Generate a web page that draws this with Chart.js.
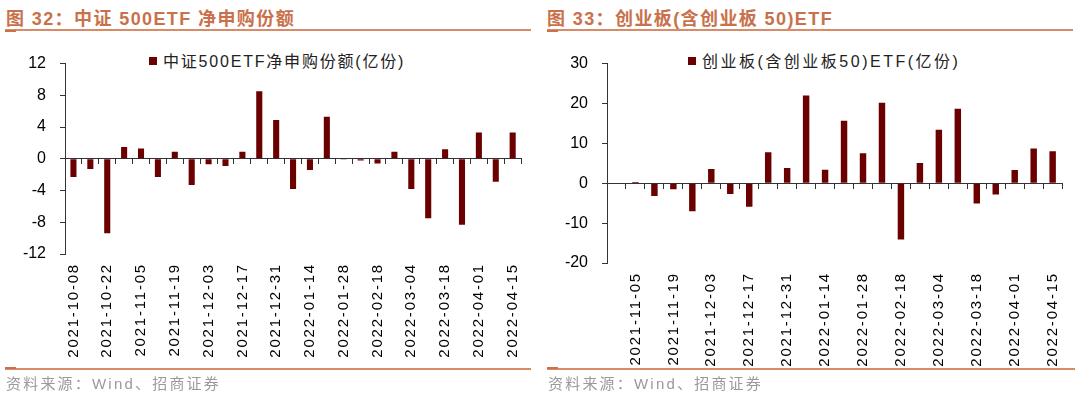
<!DOCTYPE html>
<html>
<head>
<meta charset="utf-8">
<script src="https://cdn.jsdelivr.net/npm/chart.js@4"></script>
<style>
  html, body { margin: 0; padding: 0; background: #fff; }
  body { width: 1080px; height: 404px; position: relative; overflow: hidden;
         font-family: "Liberation Sans", Arial, "Noto Sans CJK SC", sans-serif; }
  .title { position: absolute; top: 4px; font-size: 18px; font-weight: bold; color: #c8714b;
           letter-spacing: 1.4px; white-space: nowrap; font-family: "Liberation Sans", Arial, "Noto Sans CJK SC", sans-serif; }
  .rule { position: absolute; height: 1.5px; background: #d98a66; }
  .rule-tab { position: absolute; height: 2px; width: 11px; background: #c8714b; }
  .legend { position: absolute; font-size: 16px; color: #222; white-space: nowrap;
            font-family: "Liberation Sans", Arial, "Noto Sans CJK SC", sans-serif; }
  .legend i { display: inline-block; width: 8px; height: 8px; background: #6b0000; margin-right: 6px; vertical-align: 2px; }
  .source { position: absolute; top: 372px; font-size: 15px; color: #9a9a9a; letter-spacing: 2.2px; white-space: nowrap;
            font-family: "Liberation Sans Narrow", "Liberation Sans", "Noto Sans CJK SC", sans-serif; }
  canvas { position: absolute; }
</style>
</head>
<body>
<div class="title" style="left:6px">图 32：中证 500ETF 净申购份额</div>
<div class="rule" style="left:5px; width:526px; top:29px"></div>
<div class="rule-tab" style="left:5px; top:30px"></div>
<div class="title" style="left:547px">图 33：创业板(含创业板 50)ETF</div>
<div class="rule" style="left:547px; width:526px; top:29px"></div>
<div class="rule-tab" style="left:547px; top:30px"></div>

<div class="legend" style="left:149px; top:48px; letter-spacing:1.8px"><i></i>中证500ETF净申购份额(亿份)</div>
<div class="legend" style="left:688px; top:48px; letter-spacing:2.5px"><i></i>创业板(含创业板50)ETF(亿份)</div>

<canvas id="leftChart" width="540" height="330" style="left:0; top:40px; width:540px; height:330px"></canvas>
<canvas id="rightChart" width="540" height="330" style="left:540px; top:40px; width:540px; height:330px"></canvas>

<div class="rule" style="left:5px; width:526px; top:368px"></div>
<div class="rule-tab" style="left:5px; top:367px"></div>
<div class="source" style="left:6px">资料来源：Wind、招商证券</div>
<div class="rule" style="left:547px; width:528px; top:368px"></div>
<div class="rule-tab" style="left:547px; top:367px"></div>
<div class="source" style="left:548px">资料来源：Wind、招商证券</div>

<script>
// Weekly dates (Spring Festival week 2022-02-04 not reported)
const leftDates = ['2021-10-08', '2021-10-15', '2021-10-22', '2021-10-29', '2021-11-05', '2021-11-12',
    '2021-11-19', '2021-11-26', '2021-12-03', '2021-12-10', '2021-12-17', '2021-12-24', '2021-12-31',
    '2022-01-07', '2022-01-14', '2022-01-21', '2022-01-28', '2022-02-11', '2022-02-18', '2022-02-25',
    '2022-03-04', '2022-03-11', '2022-03-18', '2022-03-25', '2022-04-01', '2022-04-08', '2022-04-15'];
const csi500Flow = [-2.3, -1.3, -9.4, 1.5, 1.3, -2.3, 0.9, -3.3, -0.7, -0.9, 0.9, 8.5, 4.9, -3.8,
    -1.4, 5.3, -0.1, -0.2, -0.6, 0.9, -3.8, -7.5, 1.2, -8.3, 3.3, -2.9, 3.3];

const rightDates = ['2021-10-29', '2021-11-05', '2021-11-12', '2021-11-19', '2021-11-26', '2021-12-03',
    '2021-12-10', '2021-12-17', '2021-12-24', '2021-12-31', '2022-01-07', '2022-01-14', '2022-01-21',
    '2022-01-28', '2022-02-11', '2022-02-18', '2022-02-25', '2022-03-04', '2022-03-11', '2022-03-18',
    '2022-03-25', '2022-04-01', '2022-04-08', '2022-04-15'];
const chinextFlow = [0.1, 0.3, -3.2, -1.5, -7.0, 3.6, -2.7, -5.9, 7.8, 3.8, 22.0, 3.4, 15.7, 7.5,
    20.2, -14.1, 5.1, 13.4, 18.7, -5.1, -2.8, 3.3, 8.7, 8.0];

const leftTicks = { min: -12, max: 12, step: 4 };
const rightTicks = { min: -20, max: 30, step: 10 };

Chart.defaults.font.family = '"Liberation Sans", Arial, sans-serif';
Chart.defaults.color = '#000';

const axisColor = '#333';
const barColor = '#6b0000';

// date labels in the reference are drawn stretched, spread them a little
const spacedLabels = {
    id: 'spacedLabels',
    afterLayout(chart) {
        const xs = chart.scales.x;
        if (xs._spaced) return;
        const orig = xs.drawLabels;
        xs.drawLabels = function (area) {
            const c = this.ctx;
            c.save();
            c.letterSpacing = '1.8px';
            orig.call(this, area);
            c.restore();
        };
        xs._spaced = true;
    }
};

function createFlowChart(id, labels, values, ticks, box) {
    const ctx = document.getElementById(id);
    return new Chart(ctx, {
        type: 'bar',
        data: {
            labels: labels,
            datasets: [{
                data: values,
                backgroundColor: barColor,
                borderWidth: 0,
                barPercentage: box.barPct,
                categoryPercentage: 1
            }]
        },
        plugins: [spacedLabels],
        options: {
            responsive: false,
            animation: false,
            devicePixelRatio: 1,
            layout: { padding: { top: box.top, right: box.right, left: 0, bottom: 0 } },
            plugins: { legend: { display: false }, tooltip: { enabled: false } },
            scales: {
                x: {
                    position: 'bottom',
                    offset: true,
                    grid: { display: false, drawTicks: false },
                    border: { display: false },
                    ticks: {
                        autoSkip: false,
                        minRotation: 90,
                        maxRotation: 90,
                        padding: 9,
                        font: { size: 15 },
                        callback: function (v, i) {
                            return i % 2 === box.labelParity ? labels[i] : '';
                        }
                    },
                    afterFit: s => { s.height = box.xHeight; }
                },
                // zero line with tick marks between categories
                x2: {
                    axis: 'x',
                    type: 'category',
                    position: { y: 0 },
                    offset: true,
                    grid: { offset: true, drawOnChartArea: false, drawTicks: true, tickLength: 5, color: axisColor },
                    border: { display: true, color: axisColor, width: 1 },
                    ticks: { display: false }
                },
                y: {
                    min: ticks.min,
                    max: ticks.max,
                    grid: { drawOnChartArea: false, drawTicks: true, tickLength: 5, color: axisColor },
                    border: { display: true, color: axisColor, width: 1 },
                    ticks: { stepSize: ticks.step, padding: 14, font: { size: 16 } },
                    afterFit: s => { s.width = box.yWidth; }
                }
            }
        }
    });
}

createFlowChart('leftChart', leftDates, csi500Flow, leftTicks,
    { top: 23, right: 18, xHeight: 116, yWidth: 65, labelParity: 0, barPct: 0.36 });
createFlowChart('rightChart', rightDates, chinextFlow, rightTicks,
    { top: 17, right: 17, xHeight: 107, yWidth: 67, labelParity: 1, barPct: 0.34 });
</script>
</body>
</html>
